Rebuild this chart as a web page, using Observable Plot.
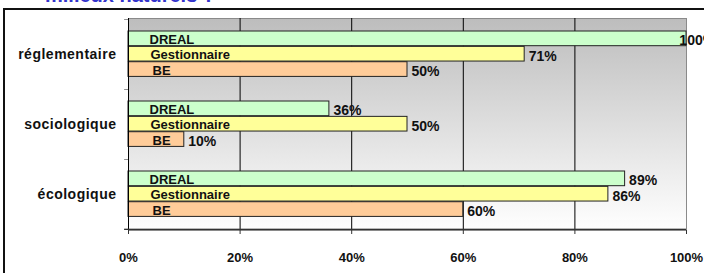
<!DOCTYPE html>
<html><head><meta charset="utf-8">
<script src="https://cdn.jsdelivr.net/npm/d3@7"></script>
<script src="https://cdn.jsdelivr.net/npm/@observablehq/plot@0.6"></script>
<style>
body{margin:0;background:#fff;font-family:"Liberation Sans",Arial,sans-serif;}
#wrap{position:relative;width:704px;height:273px;overflow:hidden;}
#chart{position:absolute;left:0;top:0;}
#title{position:absolute;left:45px;top:-15px;font:bold 20px/20px "Liberation Sans",Arial,sans-serif;color:#3333cc;white-space:nowrap;}
#border{position:absolute;left:3px;top:8px;width:720px;height:300px;border-top:2px solid #111;border-left:2px solid #111;pointer-events:none;}
g[aria-label="y-axis tick label"] text{letter-spacing:0.5px;}
</style></head>
<body><div id="wrap"><div id="chart"></div><div id="title">milieux naturels ?</div><div id="border"></div></div>
<script>
const categories = ["réglementaire", "sociologique", "écologique"];
const series = ["DREAL", "Gestionnaire", "BE"];
const drealValues = [1.00, 0.36, 0.89];
const gestionnaireValues = [0.71, 0.50, 0.86];
const beValues = [0.50, 0.10, 0.60];
const seriesColors = ["#ccffcc", "#ffff99", "#ffcc99"];
const xTicks = [0, 0.2, 0.4, 0.6, 0.8, 1];
const gridTicks = [0.2, 0.4, 0.6, 0.8];

const valuesBySeries = [drealValues, gestionnaireValues, beValues];
const rows = categories.flatMap((c, i) => series.map((s, j) => ({category: c, series: s, value: valuesBySeries[j][i]})));

const W = 704, H = 273, mt = 18, mb = 43, ml = 128, mr = 18;
const bw = (H - mt - mb) / categories.length;
const pad = 12;
const bh = (bw - 2 * pad - 0.6) / series.length;
const nameDx = [21, 22, 24];
const pct = d3.format(".0%");

const marks = [
  Plot.frame({fill: "url(#bgGrad)", stroke: "#8a8a8a"}),
  Plot.ruleX(gridTicks, {stroke: "#000", strokeWidth: 1})
];
series.forEach((s, j) => {
  const data = rows.filter(d => d.series === s);
  const insetTop = pad + j * bh;
  const insetBottom = bw - pad - (j + 1) * bh;
  const dy = -bw / 2 + pad + (j + 0.5) * bh;
  marks.push(Plot.barX(data, {x1: 0, x2: "value", y: "category", fill: seriesColors[j], stroke: "#222", strokeWidth: 1, insetTop, insetBottom}));
  marks.push(Plot.text(data, {x: 0, y: "category", text: "series", textAnchor: "start", dx: nameDx[j], dy: dy + 1, fontSize: 13, fontWeight: "bold", fill: "#111"}));
  marks.push(Plot.text(data, {x: d => Math.min(d.value, 0.98), y: "category", text: d => pct(d.value), textAnchor: "start", dx: 4, dy: dy + 2, fontSize: 14, fontWeight: "bold", fill: "#111"}));
});
marks.push(
  Plot.ruleX([0], {stroke: "#000", strokeWidth: 1}),
  Plot.barX(categories, {y: d => d, x1: -0.007, x2: 0, fill: "#333", insetTop: 0, insetBottom: bw - 1.2}),
  Plot.barX([categories[categories.length - 1]], {y: d => d, x1: -0.007, x2: 1, fill: "#333", insetTop: bw - 1, insetBottom: -1}),
  Plot.axisX({ticks: xTicks, tickFormat: ".0%", tickSize: 4, tickPadding: 18, fontSize: 13, fontWeight: "bold", label: null, stroke: "#333"}),
  Plot.axisY({tickSize: 0, tickPadding: 12, fontSize: 14, fontWeight: "bold", label: null, fill: "#111"})
);

const svg = Plot.plot({
  width: W, height: H,
  marginTop: mt, marginBottom: mb, marginLeft: ml, marginRight: mr,
  style: {fontFamily: "'Liberation Sans', Arial, sans-serif", background: "white", color: "#111"},
  x: {domain: [0, 1]},
  y: {domain: categories, padding: 0},
  marks
});
const defs = d3.select(svg).insert("defs", ":first-child");
const grad = defs.append("linearGradient").attr("id", "bgGrad").attr("x1", 0).attr("y1", 0).attr("x2", 0).attr("y2", 1);
grad.append("stop").attr("offset", "0").attr("stop-color", "#bdbdbd");
grad.append("stop").attr("offset", "1").attr("stop-color", "#ffffff");
document.getElementById("chart").appendChild(svg);
</script>
</body></html>
